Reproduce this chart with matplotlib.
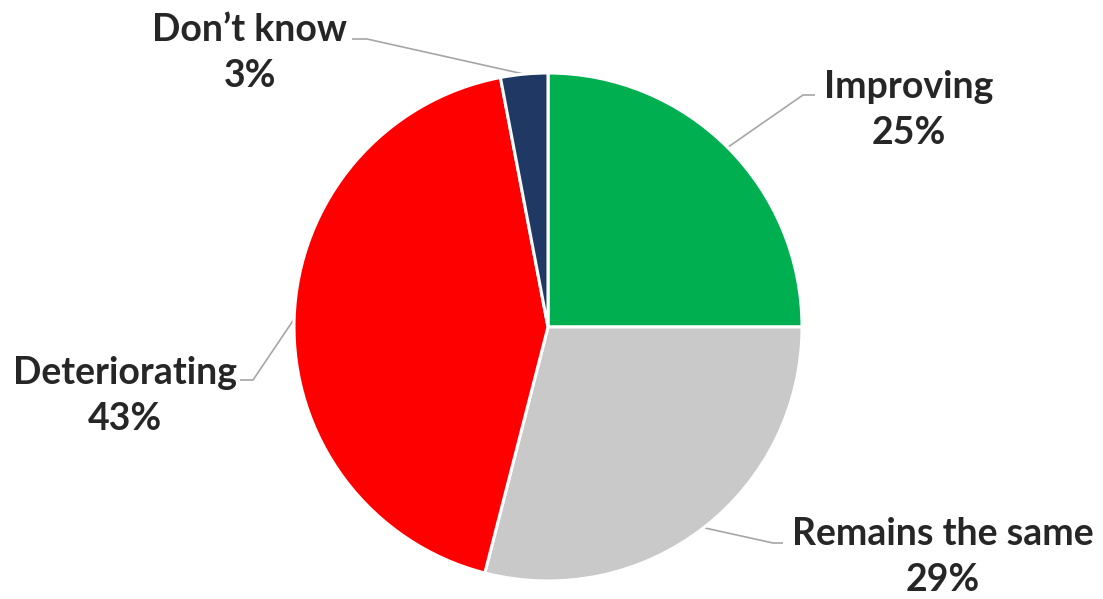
import numpy as np
import matplotlib
matplotlib.use("Agg")
import matplotlib.pyplot as plt

categories = ["Improving", "Remains the same", "Deteriorating", "Don\u2019t know"]
shares = [25, 29, 43, 3]
colors = ["#00B050", "#C9C9C9", "#FF0000", "#1F3864"]

W, H = 1103, 599
fig = plt.figure(figsize=(W / 100, H / 100), dpi=100)
ax = fig.add_axes([0, 0, 1, 1])
ax.set_xlim(0, W)
ax.set_ylim(0, H)
ax.set_aspect("equal")
ax.axis("off")

cx, cy, r = 548, H - 327, 254
wedges, _ = ax.pie(shares, colors=colors, startangle=90, counterclock=False,
                   center=(cx, cy), radius=r,
                   wedgeprops=dict(edgecolor="white", linewidth=2.2))
ax.set_xlim(0, W)
ax.set_ylim(0, H)

# label centre (px from top-left), elbow point of the leader
label_pos = {
    "Improving": ((909, 110), (815, 95), (803, 95)),
    "Remains the same": ((943, 557), (783, 543), (773, 543)),
    "Deteriorating": ((125, 396), (240, 380), (253, 380)),
    "Don\u2019t know": ((250, 53), (352, 39), (367, 39)),
}

font = dict(family=["Lato", "DejaVu Sans"], weight="bold", size=27, color="#262626")
for w, cat, val in zip(wedges, categories, shares):
    (tx, ty), (ax0, ay0), (ax1, ay1) = label_pos[cat]
    ax.text(tx, H - ty, f"{cat}\n{val}%", ha="center", va="center",
            linespacing=1.42, **font)
    mid = np.deg2rad((w.theta1 + w.theta2) / 2)
    ex, ey = cx + r * np.cos(mid), cy + r * np.sin(mid)
    ax.plot([ax0, ax1, ex], [H - ay0, H - ay1, ey], color="#A6A6A6", lw=1.2,
            solid_capstyle="butt", zorder=0.5)

fig.savefig("out.png", dpi=100)
